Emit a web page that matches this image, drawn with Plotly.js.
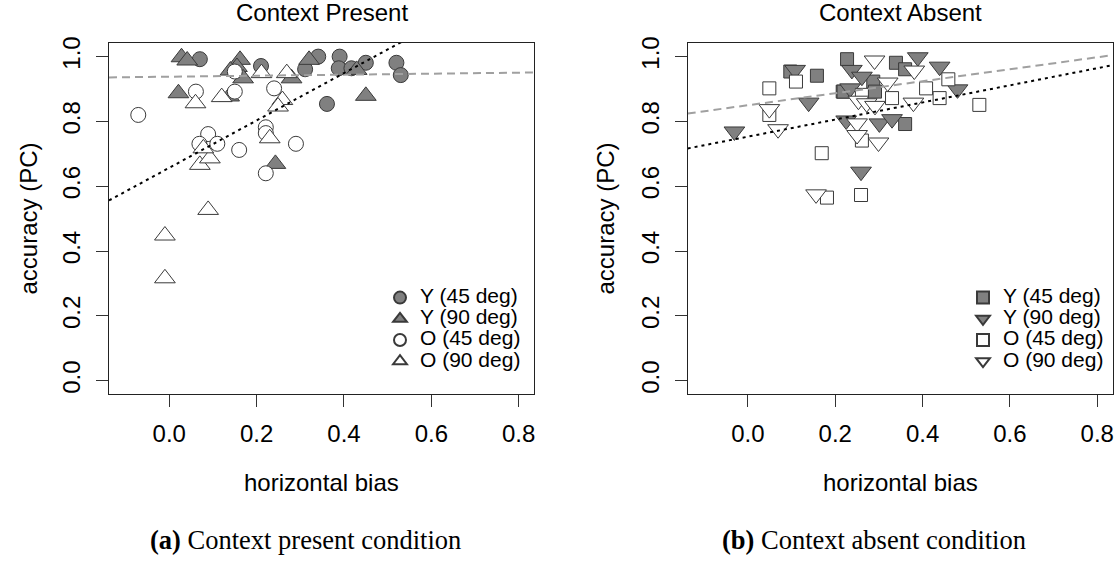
<!DOCTYPE html>
<html>
<head>
<meta charset="utf-8">
<script src="https://cdn.plot.ly/plotly-3.0.1.min.js"></script>
<style>
  html, body { margin: 0; padding: 0; background: #fff; }
  #chart { width: 1116px; height: 562px; }
</style>
</head>
<body>
<div id="chart"></div>
<script>
// Horizontal bias (x) against accuracy PC (y), one point per participant.

// ---- Context present ----
const presentY45X = [0.070, 0.210, 0.311, 0.341, 0.390, 0.388, 0.417, 0.450, 0.361, 0.520, 0.530];
const presentY45Y = [0.992, 0.971, 0.961, 1.000, 1.000, 0.964, 0.964, 0.981, 0.854, 0.981, 0.943];

const presentY90X = [0.028, 0.041, 0.021, 0.162, 0.155, 0.140, 0.169, 0.137, 0.320, 0.280, 0.243, 0.429, 0.450];
const presentY90Y = [0.998, 0.988, 0.887, 0.990, 0.968, 0.957, 0.933, 0.877, 0.990, 0.933, 0.669, 0.959, 0.879];

const presentO45X = [-0.071, 0.061, 0.150, 0.150, 0.240, 0.089, 0.069, 0.110, 0.160, 0.221, 0.221, 0.290, 0.221];
const presentO45Y = [0.820, 0.892, 0.954, 0.892, 0.902, 0.761, 0.731, 0.731, 0.712, 0.782, 0.764, 0.731, 0.640];

const presentO90X = [0.060, 0.120, 0.211, 0.269, 0.259, 0.249, 0.230, 0.070, 0.093, 0.078, 0.089, -0.010, -0.010];
const presentO90Y = [0.856, 0.875, 0.949, 0.949, 0.866, 0.846, 0.748, 0.666, 0.686, 0.717, 0.527, 0.448, 0.316];

// ---- Context absent ----
const absentY45X = [0.227, 0.097, 0.158, 0.217, 0.339, 0.360, 0.287, 0.291, 0.219, 0.360];
const absentY45Y = [0.992, 0.954, 0.941, 0.892, 0.981, 0.961, 0.923, 0.892, 0.892, 0.792];

const absentY90X = [0.108, 0.139, -0.031, 0.225, 0.238, 0.261, 0.389, 0.439, 0.480, 0.234, 0.301, 0.330, 0.259];
const absentY90Y = [0.959, 0.858, 0.769, 0.803, 0.959, 0.938, 0.998, 0.969, 0.899, 0.902, 0.794, 0.807, 0.645];

const absentO45X = [0.110, 0.049, 0.049, 0.169, 0.181, 0.459, 0.408, 0.439, 0.530, 0.330, 0.261, 0.261, 0.259];
const absentO45Y = [0.923, 0.902, 0.820, 0.702, 0.565, 0.930, 0.902, 0.872, 0.851, 0.872, 0.882, 0.741, 0.573];

const absentO90X = [0.049, 0.069, 0.156, 0.290, 0.381, 0.379, 0.320, 0.253, 0.272, 0.291, 0.250, 0.250, 0.299];
const absentO90Y = [0.838, 0.776, 0.575, 0.988, 0.957, 0.858, 0.920, 0.864, 0.856, 0.848, 0.794, 0.758, 0.735];

// Linear fits: [young (dashed grey), old (dotted black)]
const presentFitIntercepts = [0.938, 0.657];
const presentFitSlopes = [0.0155, 0.730];
const absentFitIntercepts = [0.850, 0.753];
const absentFitSlopes = [0.185, 0.264];

const groupNames = ['Y (45 deg)', 'Y (90 deg)', 'O (45 deg)', 'O (90 deg)'];
const xTicks = [0, 0.2, 0.4, 0.6, 0.8];
const yTicks = [0, 0.2, 0.4, 0.6, 0.8, 1.0];

const xRange = [-0.138, 0.835];
const yRange = [-0.041, 1.042];

const W = 1116, H = 562;
const GREY = '#808080', EDGE = '#3a3a3a';
const SANS = 'Liberation Sans, Arial, Helvetica, sans-serif';
const SERIF = 'Liberation Serif, Times New Roman, serif';
const legendName = n => '<span style="font-size:21px">' + n + '</span>';

function pointTrace(x, y, name, symbol, size, fill, xa, ya, legend) {
  return {
    type: 'scatter', mode: 'markers', x: x, y: y, name: legendName(name),
    xaxis: xa, yaxis: ya, legend: legend, showlegend: true, cliponaxis: false,
    marker: { symbol: symbol, size: size, color: fill, line: { color: EDGE, width: 1 } },
    hoverinfo: 'x+y'
  };
}

function fitTrace(b0, b1, dash, color, xa, ya) {
  return {
    type: 'scatter', mode: 'lines', x: xRange, y: xRange.map(v => b0 + b1 * v),
    xaxis: xa, yaxis: ya, showlegend: false, hoverinfo: 'skip',
    line: { color: color, width: 2, dash: dash }
  };
}

const traces = [
  pointTrace(presentY45X, presentY45Y, groupNames[0], 'circle', 15, GREY, 'x', 'y', 'legend'),
  pointTrace(presentY90X, presentY90Y, groupNames[1], 'triangle-up', 18, GREY, 'x', 'y', 'legend'),
  pointTrace(presentO45X, presentO45Y, groupNames[2], 'circle', 15, '#fff', 'x', 'y', 'legend'),
  pointTrace(presentO90X, presentO90Y, groupNames[3], 'triangle-up', 18, '#fff', 'x', 'y', 'legend'),
  fitTrace(presentFitIntercepts[0], presentFitSlopes[0], '8px,5px', '#a0a0a0', 'x', 'y'),
  fitTrace(presentFitIntercepts[1], presentFitSlopes[1], '3px,4px', '#000', 'x', 'y'),

  pointTrace(absentY45X, absentY45Y, groupNames[0], 'square', 13, GREY, 'x2', 'y2', 'legend2'),
  pointTrace(absentY90X, absentY90Y, groupNames[1], 'triangle-down', 18, GREY, 'x2', 'y2', 'legend2'),
  pointTrace(absentO45X, absentO45Y, groupNames[2], 'square', 13, '#fff', 'x2', 'y2', 'legend2'),
  pointTrace(absentO90X, absentO90Y, groupNames[3], 'triangle-down', 18, '#fff', 'x2', 'y2', 'legend2'),
  fitTrace(absentFitIntercepts[0], absentFitSlopes[0], '8px,5px', '#a0a0a0', 'x2', 'y2'),
  fitTrace(absentFitIntercepts[1], absentFitSlopes[1], '3px,4px', '#000', 'x2', 'y2')
];

const TICK_FONT = { family: SANS, size: 24, color: '#000' };

function xAxis(domain, anchor) {
  return {
    domain: domain, anchor: anchor, range: xRange,
    tickmode: 'array', tickvals: xTicks, ticktext: xTicks.map(v => v.toFixed(1)),
    ticks: 'outside', ticklen: 12, tickwidth: 1, tickcolor: '#333',
    showline: true, mirror: true, linecolor: '#222', linewidth: 1,
    showgrid: false, zeroline: false, tickfont: TICK_FONT, ticklabelstandoff: 6
  };
}
function yAxis(anchor) {
  return {
    domain: [1 - 394 / H, 1 - 43 / H], anchor: anchor, range: yRange,
    tickmode: 'array', tickvals: yTicks, ticktext: yTicks.map(v => v.toFixed(1)),
    ticks: 'outside', ticklen: 12, tickwidth: 1, tickcolor: '#333', tickangle: -90,
    showline: true, mirror: true, linecolor: '#222', linewidth: 1,
    showgrid: false, zeroline: false, tickfont: TICK_FONT, ticklabelstandoff: 6
  };
}

const leftDom = [109 / W, 534 / W];
const rightDom = [687.7 / W, 1112.5 / W];
const midL = (leftDom[0] + leftDom[1]) / 2;
const midR = (rightDom[0] + rightDom[1]) / 2;
const midY = 1 - (43 + 394) / 2 / H;

function label(text, x, yPx, size, extra) {
  return Object.assign({
    text: text, xref: 'paper', yref: 'paper', x: x, y: 1 - yPx / H,
    xanchor: 'center', yanchor: 'middle', showarrow: false,
    font: { family: SANS, size: size, color: '#000' }
  }, extra || {});
}

const annotations = [
  label('Context Present', midL, 12, 24),
  label('Context Absent', midR, 12, 24),
  label('horizontal bias', midL, 482, 24),
  label('horizontal bias', midR, 482, 24),
  label('accuracy (PC)', 28 / W, 0, 24, { y: midY, textangle: -90 }),
  label('accuracy (PC)', 605 / W, 0, 24, { y: midY, textangle: -90 }),
  label('<b>(a)</b> Context present condition', 305 / W, 540, 26,
        { font: { family: SERIF, size: 26.5, color: '#000' } }),
  label('<b>(b)</b> Context absent condition', 874 / W, 540, 26,
        { font: { family: SERIF, size: 26.5, color: '#000' } })
];

const legendCommon = {
  xanchor: 'left', yanchor: 'top', bgcolor: 'rgba(0,0,0,0)', borderwidth: 0,
  font: { family: SANS, size: 14, color: '#000' }, itemsizing: 'constant', itemwidth: 30,
  traceorder: 'normal', itemclick: false, itemdoubleclick: false
};

const layout = {
  width: W, height: H, margin: { l: 0, r: 0, t: 0, b: 0 },
  paper_bgcolor: '#fff', plot_bgcolor: '#fff',
  font: { family: SANS, color: '#000' },
  showlegend: true, hovermode: 'closest',
  xaxis: xAxis(leftDom, 'y'),
  yaxis: yAxis('x'),
  xaxis2: xAxis(rightDom, 'y2'),
  yaxis2: yAxis('x2'),
  legend: Object.assign({}, legendCommon, { x: 380 / W, y: 1 - 282 / H }),
  legend2: Object.assign({}, legendCommon, { x: 963 / W, y: 1 - 282 / H }),
  annotations: annotations
};

Plotly.newPlot('chart', traces, layout, { displayModeBar: false });
</script>
</body>
</html>
